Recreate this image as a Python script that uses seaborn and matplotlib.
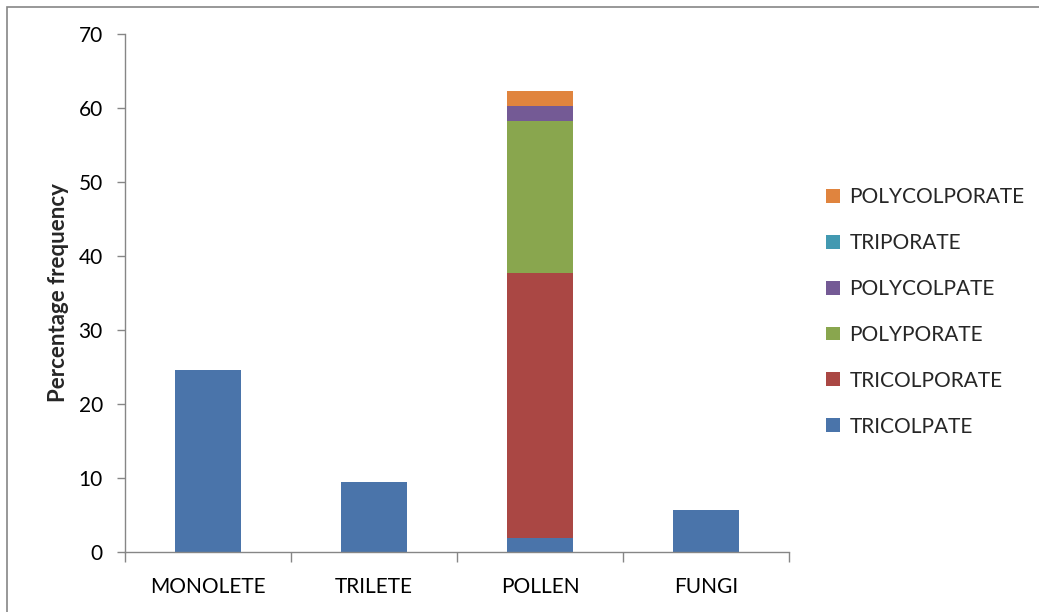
import matplotlib
matplotlib.use("Agg")
import matplotlib.pyplot as plt
from matplotlib.patches import Patch, Rectangle
import numpy as np
import pandas as pd
import seaborn as sns

categories = ["MONOLETE", "TRILETE", "POLLEN", "FUNGI"]
series_names = ["TRICOLPATE", "TRICOLPORATE", "POLYPORATE",
                "POLYCOLPATE", "TRIPORATE", "POLYCOLPORATE"]
tricolpate = [24.6, 9.4, 1.9, 5.7]
tricolporate = [0, 0, 35.8, 0]
polyporate = [0, 0, 20.6, 0]
polycolpate = [0, 0, 1.95, 0]
triporate = [0, 0, 0, 0]
polycolporate = [0, 0, 2.1, 0]
series_values = [tricolpate, tricolporate, polyporate,
                 polycolpate, triporate, polycolporate]
colors = ["#4A74AA", "#AA4744", "#89A64E", "#745A95", "#4299B1", "#E0843E"]
y_ticks = [0, 10, 20, 30, 40, 50, 60, 70]

sns.set_theme(style="white")
plt.rcParams["font.family"] = ["Lato", "DejaVu Sans"]

FS = 15

fig = plt.figure(figsize=(10.39, 6.12), dpi=100)
ax = fig.add_axes([125 / 1039, 60 / 612, 664 / 1039, 518 / 612])

# stacked bars: draw cumulative totals from the top series down
cum = np.cumsum(np.array(series_values, dtype=float), axis=0)
for i in range(len(series_names) - 1, -1, -1):
    df = pd.DataFrame({"cat": categories, "val": cum[i]})
    sns.barplot(data=df, x="cat", y="val", order=categories, color=colors[i],
                saturation=1, width=0.4, ax=ax, edgecolor="none", linewidth=0)

ax.set_xlim(-0.5, 3.5)
ax.set_ylim(0, 70)
ax.set_yticks(y_ticks)
ax.set_yticklabels([str(t) for t in y_ticks], fontsize=FS)
ax.set_xticks(np.arange(len(categories)))
ax.set_xticklabels(categories, fontsize=FS)
ax.set_xlabel("")
ax.set_ylabel("Percentage frequency", fontsize=16, fontweight="bold", labelpad=7)

for s in ["top", "right"]:
    ax.spines[s].set_visible(False)
for s in ["left", "bottom"]:
    ax.spines[s].set_color("#868686")
    ax.spines[s].set_linewidth(1.0)

ax.tick_params(axis="y", which="major", direction="out", length=6, width=1,
               color="#868686", left=True, pad=10, labelcolor="black")
ax.tick_params(axis="x", which="major", length=0, pad=18, labelcolor="black")
# category divider ticks on the x-axis
ax.set_xticks(np.arange(-0.5, len(categories), 1.0), minor=True)
ax.tick_params(axis="x", which="minor", direction="out", length=7, width=1,
               color="#868686", bottom=True)

handles = [Patch(facecolor=colors[i], edgecolor="none") for i in range(len(series_names))][::-1]
labels = series_names[::-1]
fig.legend(handles, labels, loc="upper left", bbox_to_anchor=(818 / 1039, 1 - 179 / 612),
           frameon=False, fontsize=FS, handlelength=0.65, handleheight=0.65,
           handletextpad=0.45, labelspacing=1.24, borderaxespad=0)

# outer chart border
fig.patches.append(Rectangle((7 / 1039, -0.05), 1.1, 1 - 6.5 / 612 + 0.05,
                             transform=fig.transFigure, fill=False,
                             edgecolor="#868686", linewidth=1.2))

fig.savefig("out.png", dpi=100, facecolor="white")
